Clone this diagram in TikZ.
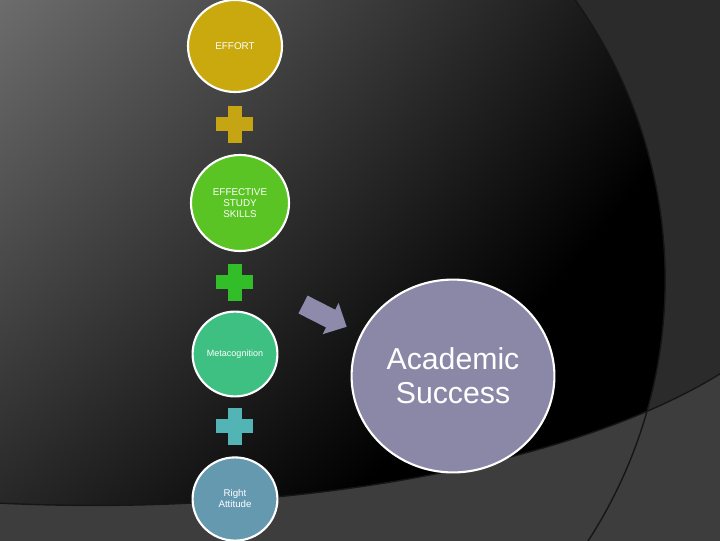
\documentclass[tikz,border=0pt]{standalone}
\usepackage{fontspec}
\setmainfont{Liberation Sans}
\usetikzlibrary{shapes.geometric}

\definecolor{effortc}{RGB}{201,169,14}
\definecolor{plusone}{RGB}{198,165,20}
\definecolor{studyc}{RGB}{90,196,36}
\definecolor{plustwo}{RGB}{50,190,40}
\definecolor{metac}{RGB}{62,192,130}
\definecolor{plusthree}{RGB}{82,180,180}
\definecolor{attitudec}{RGB}{100,153,176}
\definecolor{successc}{RGB}{139,136,167}
\definecolor{arrowc}{RGB}{142,138,172}
\definecolor{bgouter}{RGB}{43,43,43}
\definecolor{bgtop}{RGB}{108,108,108}
\definecolor{bgband}{RGB}{61,61,61}
\definecolor{bgline}{RGB}{22,22,22}

% light in the upper left corner, black towards the lower right
\pgfdeclareradialshading{bgglow}{\pgfpoint{0bp}{0bp}}{color(0bp)=(bgtop); color(18.94bp)=(bgtop); color(24.3bp)=(black); color(50bp)=(black)}

\begin{document}
\begin{tikzpicture}[
    x=0.025cm, y=-0.025cm,
    bubble/.style={ellipse, draw=white, line width=1.5pt, text=white, align=center, inner sep=0pt},
    smalltext/.style={font=\fontsize{7}{7.6}\selectfont},
    bigtext/.style={font=\fontsize{21.5}{24}\selectfont}
]

% === BACKGROUND ===
\useasboundingbox (0,0) rectangle (720,540);
\clip (-3,-3) rectangle (723,543);
\fill[bgouter] (-3,-3) rectangle (723,543);
\begin{scope}
  \clip (185,280) circle[radius=12cm];
  \fill[black] (-3,-3) rectangle (723,543);
  \shade[shading=bgglow] (-1500,-1500) circle[radius=70cm];
\end{scope}
\fill[bgband] (-3,503) .. controls (300,518) and (580,462) .. (723,372) -- (723,543) -- (-3,543) -- cycle;
\draw[bgline, line width=1pt] (-3,503) .. controls (300,518) and (580,462) .. (723,372);
\draw[bgline, line width=1pt] (185,280) circle[radius=12cm];

% === LEFT COLUMN: the four factors ===
\node[bubble, fill=effortc, minimum width=2.35cm, minimum height=2.3cm, smalltext] (effort) at (235,46) {EFFORT};
\node[bubble, fill=studyc, minimum width=2.45cm, minimum height=2.4cm, smalltext] (study) at (240,203) {EFFECTIVE\\STUDY\\SKILLS};
\node[bubble, fill=metac, minimum width=2.12cm, minimum height=2.12cm, font=\fontsize{6.4}{7}\selectfont] (meta) at (235,354) {Metacognition};
\node[bubble, fill=attitudec, minimum width=2.12cm, minimum height=2.08cm, font=\fontsize{6.9}{7.8}\selectfont] (attitude) at (235,499) {Right\\Attitude};

% Plus signs between the factors
\foreach \py/\pc in {124/plusone, 282/plustwo, 426/plusthree} {
  \fill[\pc] (216,\py-7) rectangle (253,\py+7);
  \fill[\pc] (227.5,\py-18.5) rectangle (241.5,\py+18.5);
}

% === RIGHT SIDE: result ===
\coordinate (arrow) at (303,304.5);
\fill[arrowc, shift={(arrow)}, rotate=-27] (0,-10) -- (31,-10) -- (31,-17.5) -- (49,0) -- (31,17.5) -- (31,10) -- (0,10) -- cycle;

\node[bubble, fill=successc, minimum width=5.07cm, minimum height=4.82cm, bigtext] (success) at (453,376) {Academic\\Success};

\end{tikzpicture}
\end{document}
